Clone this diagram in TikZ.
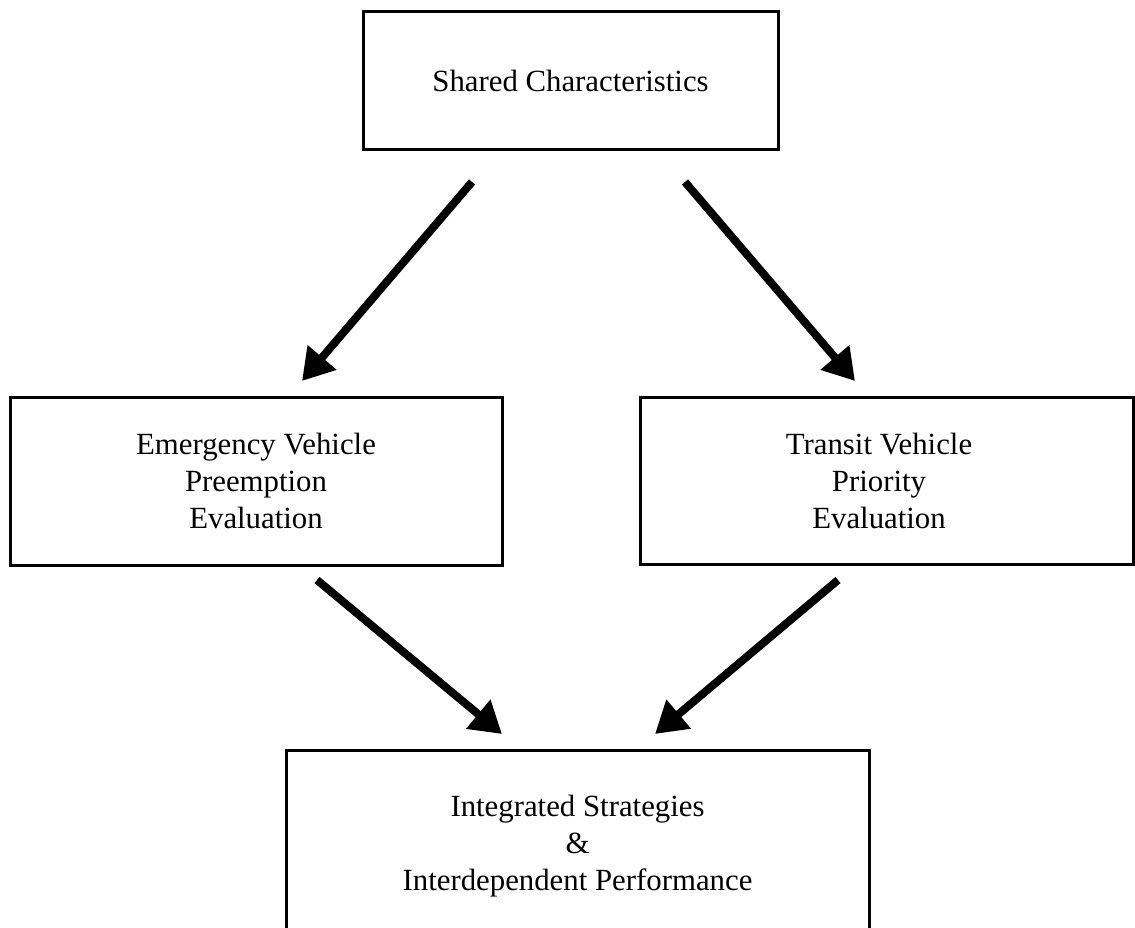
\documentclass[tikz,border=0pt]{standalone}
\usepackage{fontspec}
\setmainfont{Liberation Serif}
\usetikzlibrary{arrows.meta}
\begin{document}
\begin{tikzpicture}[x=1pt,y=-1pt,
  box/.style={draw=black,line width=3pt,rectangle,align=center,inner sep=0pt,
    font=\fontsize{30.8}{37}\selectfont},
  boxtext/.style={align=center,inner sep=0pt,font=\fontsize{30.8}{37}\selectfont},
  flow/.style={line width=8pt,-{Triangle[length=31pt,width=36pt]}}]
  \useasboundingbox (0,0) rectangle (1135,928);
  \clip (0,0) rectangle (1135,928);

  % boxes
  \node[box,minimum width=415pt,minimum height=138pt] (shared) at (570.5,81) {Shared Characteristics};
  \node[box,minimum width=492pt,minimum height=168pt] (emerg) at (256,481)
    {Emergency Vehicle\\Preemption\\Evaluation};
  \node[box,minimum width=493pt,minimum height=167pt] (transit) at (886.5,480.5) {};
  \node[boxtext] (transitlabel) at (879,481)
    {Transit Vehicle\\Priority\\Evaluation};
  \node[box,minimum width=583pt,minimum height=192pt] (integ) at (577.5,846)
    {Integrated Strategies\\\&\\Interdependent Performance};

  % arrow ends
  \coordinate (a1s) at (472,182);
  \coordinate (a1e) at (302,381);
  \coordinate (a2s) at (685,182);
  \coordinate (a2e) at (855,381);
  \coordinate (a3s) at (317,580);
  \coordinate (a3e) at (502,734);
  \coordinate (a4s) at (838,580);
  \coordinate (a4e) at (655,734);

  % connectors
  \draw[flow] (a1s) -- (a1e);
  \draw[flow] (a2s) -- (a2e);
  \draw[flow] (a3s) -- (a3e);
  \draw[flow] (a4s) -- (a4e);
\end{tikzpicture}
\end{document}
